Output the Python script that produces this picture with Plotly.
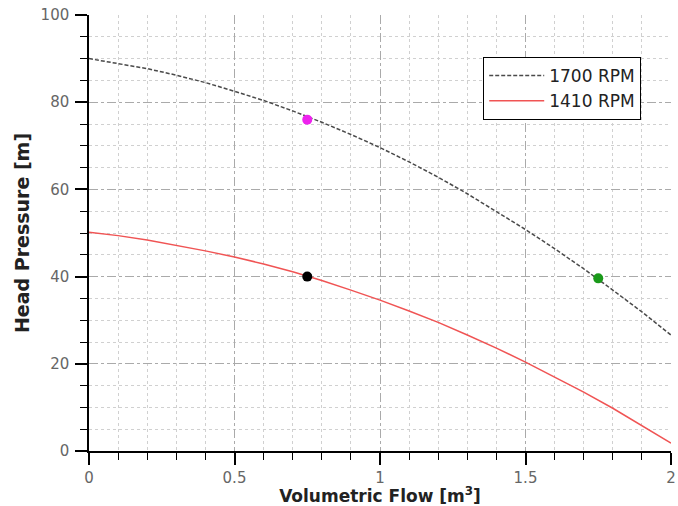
import plotly.graph_objects as go

flow = [0.0, 0.1, 0.2, 0.3, 0.4, 0.5, 0.6, 0.7, 0.8, 0.9, 1.0,
        1.1, 1.2, 1.3, 1.4, 1.5, 1.6, 1.7, 1.8, 1.9, 2.0]
head_1700 = [90.0, 88.9, 87.7, 86.2, 84.5, 82.5, 80.4, 78.0, 75.4, 72.6, 69.6,
             66.3, 62.8, 59.0, 55.0, 50.8, 46.4, 41.8, 36.9, 31.9, 26.6]
head_1410 = [50.2, 49.4, 48.4, 47.2, 45.9, 44.5, 42.9, 41.1, 39.1, 36.9, 34.6,
             32.1, 29.5, 26.6, 23.6, 20.4, 17.0, 13.5, 9.8, 5.9, 1.8]

pts_x = [0.75, 0.75, 1.75]
pts_y = [76.0, 40.0, 39.6]
pts_colors = ["#ee22ee", "#000000", "#1a9a1a"]

fig = go.Figure()
fig.add_trace(go.Scatter(x=flow, y=head_1700, mode="lines", name="1700 RPM",
                         line=dict(color="#4a4a4a", width=1.5, dash="4px,2px")))
fig.add_trace(go.Scatter(x=flow, y=head_1410, mode="lines", name="1410 RPM",
                         line=dict(color="#f05454", width=1.5)))
fig.add_trace(go.Scatter(x=pts_x, y=pts_y, mode="markers", showlegend=False,
                         marker=dict(color=pts_colors, size=10)))

axis_common = dict(
    showline=True, linecolor="black", linewidth=1.5, mirror=False,
    ticks="outside", ticklen=12, tickwidth=1.5, tickcolor="black",
    showgrid=True, gridcolor="#aaaaaa", gridwidth=1, griddash="dashdot",
    zeroline=False, automargin=False,
    tickfont=dict(family="DejaVu Sans", size=15, color="#666666"),
)

fig.update_xaxes(
    range=[0, 2], tick0=0, dtick=0.5,
    minor=dict(dtick=0.1, ticks="outside", ticklen=7, tickcolor="black", tickwidth=1.2,
               showgrid=True, gridcolor="#d0d0d0", griddash="dot", gridwidth=1),
    title=dict(text="<b>Volumetric Flow [m<sup>3</sup>]</b>",
               font=dict(family="DejaVu Sans", size=17, color="#222222"), standoff=7),
    **axis_common)
fig.update_yaxes(
    range=[0, 100], tick0=0, dtick=20, ticklabelstandoff=3,
    minor=dict(dtick=5, ticks="outside", ticklen=7, tickcolor="black", tickwidth=1.2,
               showgrid=True, gridcolor="#d0d0d0", griddash="dot", gridwidth=1),
    title=dict(text="<b>Head Pressure [m]</b>",
               font=dict(family="DejaVu Sans", size=19, color="#222222"), standoff=6),
    **axis_common)

fig.update_layout(
    width=678, height=506,
    margin=dict(l=89, r=7, t=15, b=55),
    paper_bgcolor="white", plot_bgcolor="white",
    legend=dict(x=0.677, y=0.904, xanchor="left", yanchor="top",
                bgcolor="white", bordercolor="black", borderwidth=1.2,
                font=dict(family="DejaVu Sans", size=17, color="#222222"),
                itemwidth=55),
)

fig.write_html("out.html")
